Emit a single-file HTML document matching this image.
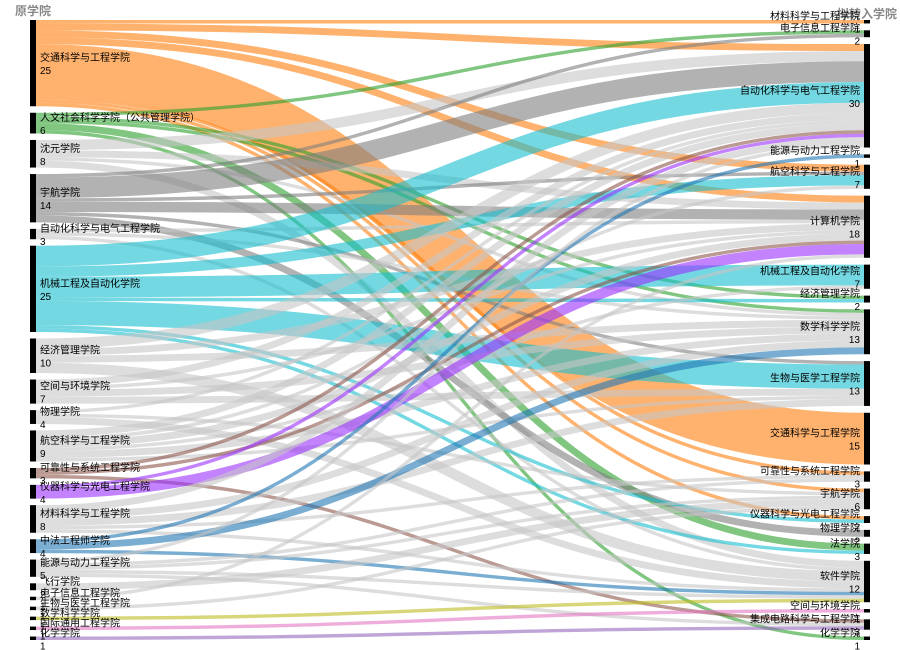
<!DOCTYPE html>
<html><head><meta charset="utf-8"><style>
html,body{margin:0;padding:0;background:#fff;width:900px;height:650px;overflow:hidden}
svg text{font-family:"Liberation Sans","Noto Sans CJK SC",sans-serif;font-size:10px;fill:#000}
</style></head><body>
<svg id="s" width="900" height="650" xmlns="http://www.w3.org/2000/svg">
<text x="15" y="15" style="font-size:12px;font-weight:bold;fill:#888">原学院</text>
<text x="897" y="18" text-anchor="end" style="font-size:12px;font-weight:bold;fill:#888">拟转入学院</text>
<g id="links"></g><g id="nodes"></g>
</svg>
<script>
(function(){
var L=[["交通科学与工程学院","#ff7f0e"],["人文社会科学学院（公共管理学院）","#2ca02c"],["沈元学院","#c7c7c7"],["宇航学院","#7f7f7f"],["自动化科学与电气工程学院","#c7c7c7"],["机械工程及自动化学院","#17becf"],["经济管理学院","#c7c7c7"],["空间与环境学院","#c7c7c7"],["物理学院","#c7c7c7"],["航空科学与工程学院","#c7c7c7"],["可靠性与系统工程学院","#8c564b"],["仪器科学与光电工程学院","#9b30ff"],["材料科学与工程学院","#c7c7c7"],["中法工程师学院","#1f77b4"],["能源与动力工程学院","#c7c7c7"],["飞行学院","#c7c7c7"],["电子信息工程学院","#c7c7c7"],["生物与医学工程学院","#c7c7c7"],["数学科学学院","#bcbd22"],["国际通用工程学院","#e377c2"],["化学学院","#9467bd"]];
var R=["材料科学与工程学院","电子信息工程学院","自动化科学与电气工程学院","能源与动力工程学院","航空科学与工程学院","计算机学院","机械工程及自动化学院","经济管理学院","数学科学学院","生物与医学工程学院","交通科学与工程学院","可靠性与系统工程学院","宇航学院","仪器科学与光电工程学院","物理学院","法学院","软件学院","空间与环境学院","集成电路科学与工程学院","化学学院"];
var lk=[
[0,0,1],[0,2,2],[0,4,2],[0,5,2],[0,10,15],[0,12,1],[0,11,1],[0,13,1],
[1,1,1],[1,7,1],[1,8,1],[1,15,2],[1,19,1],
[2,2,3],[2,5,2],[2,8,1],[2,16,2],
[3,1,1],[3,2,6],[3,4,1],[3,5,3],[3,14,2],[3,9,1],
[4,5,1],[4,8,1],[4,16,1],
[5,2,6],[5,4,3],[5,6,6],[5,7,1],[5,9,7],[5,13,1],[5,15,1],
[6,2,3],[6,8,2],[6,16,3],[6,5,2],
[7,2,2],[7,5,1],[7,8,2],[7,9,2],
[8,2,1],[8,12,1],[8,16,2],
[9,2,2],[9,4,1],[9,5,2],[9,6,1],[9,8,2],[9,9,1],
[10,2,1],[10,5,1],[10,18,1],
[11,2,1],[11,5,3],
[12,2,2],[12,8,2],[12,9,2],[12,11,1],[12,16,1],
[13,3,1],[13,8,2],[13,16,1],
[14,2,1],[14,11,1],[14,12,1],[14,16,1],[14,18,1],
[15,12,2],[16,5,1],[17,12,1],[18,16,1],[19,17,1],[20,18,1]];
var k=3.45,T0=20,B0=640;
function layout(n,vals){var tot=vals.reduce(function(a,b){return a+b},0);var pad=(B0-T0-tot*k)/(n-1);var y=T0,res=[];for(var i=0;i<n;i++){res.push([y,vals[i]*k]);y+=vals[i]*k+pad;}return res;}
var lv=L.map(function(){return 0}),rv=R.map(function(){return 0});
lk.forEach(function(l){lv[l[0]]+=l[2];rv[l[1]]+=l[2];});
var LP=layout(L.length,lv),RP=layout(R.length,rv);
var x0=36,x1=864;
var ly=LP.map(function(p){return p[0]}),ry=RP.map(function(p){return p[0]});
var bySrc=lk.slice().sort(function(a,b){return a[0]-b[0]||a[1]-b[1]});
bySrc.forEach(function(l){l.sy=ly[l[0]]+l[2]*k/2;ly[l[0]]+=l[2]*k;});
var byT=lk.slice().sort(function(a,b){return a[1]-b[1]||a[0]-b[0]});
byT.forEach(function(l){l.ty=ry[l[1]]+l[2]*k/2;ry[l[1]]+=l[2]*k;});
var h="";
lk.forEach(function(l){var m=(x0+x1)/2;h+='<path d="M'+x0+','+l.sy+'C'+m+','+l.sy+' '+m+','+l.ty+' '+x1+','+l.ty+'" fill="none" stroke="'+L[l[0]][1]+'" stroke-opacity="0.6" stroke-width="'+(l[2]*k)+'"/>';});
document.getElementById("links").innerHTML=h;
var nh="";
LP.forEach(function(p,i){var m=p[0]+p[1]/2;nh+='<rect x="30" y="'+p[0]+'" width="6" height="'+p[1]+'" fill="#000"/><text x="40" y="'+(m-2)+'">'+L[i][0]+'</text><text x="40" y="'+(m+11)+'">'+lv[i]+'</text>';});
RP.forEach(function(p,i){var m=p[0]+p[1]/2;nh+='<rect x="864" y="'+p[0]+'" width="6" height="'+p[1]+'" fill="#000"/><text x="860" y="'+(m-2)+'" text-anchor="end">'+R[i]+'</text><text x="860" y="'+(m+11)+'" text-anchor="end">'+rv[i]+'</text>';});
document.getElementById("nodes").innerHTML=nh;
})();
</script>
</body></html>
